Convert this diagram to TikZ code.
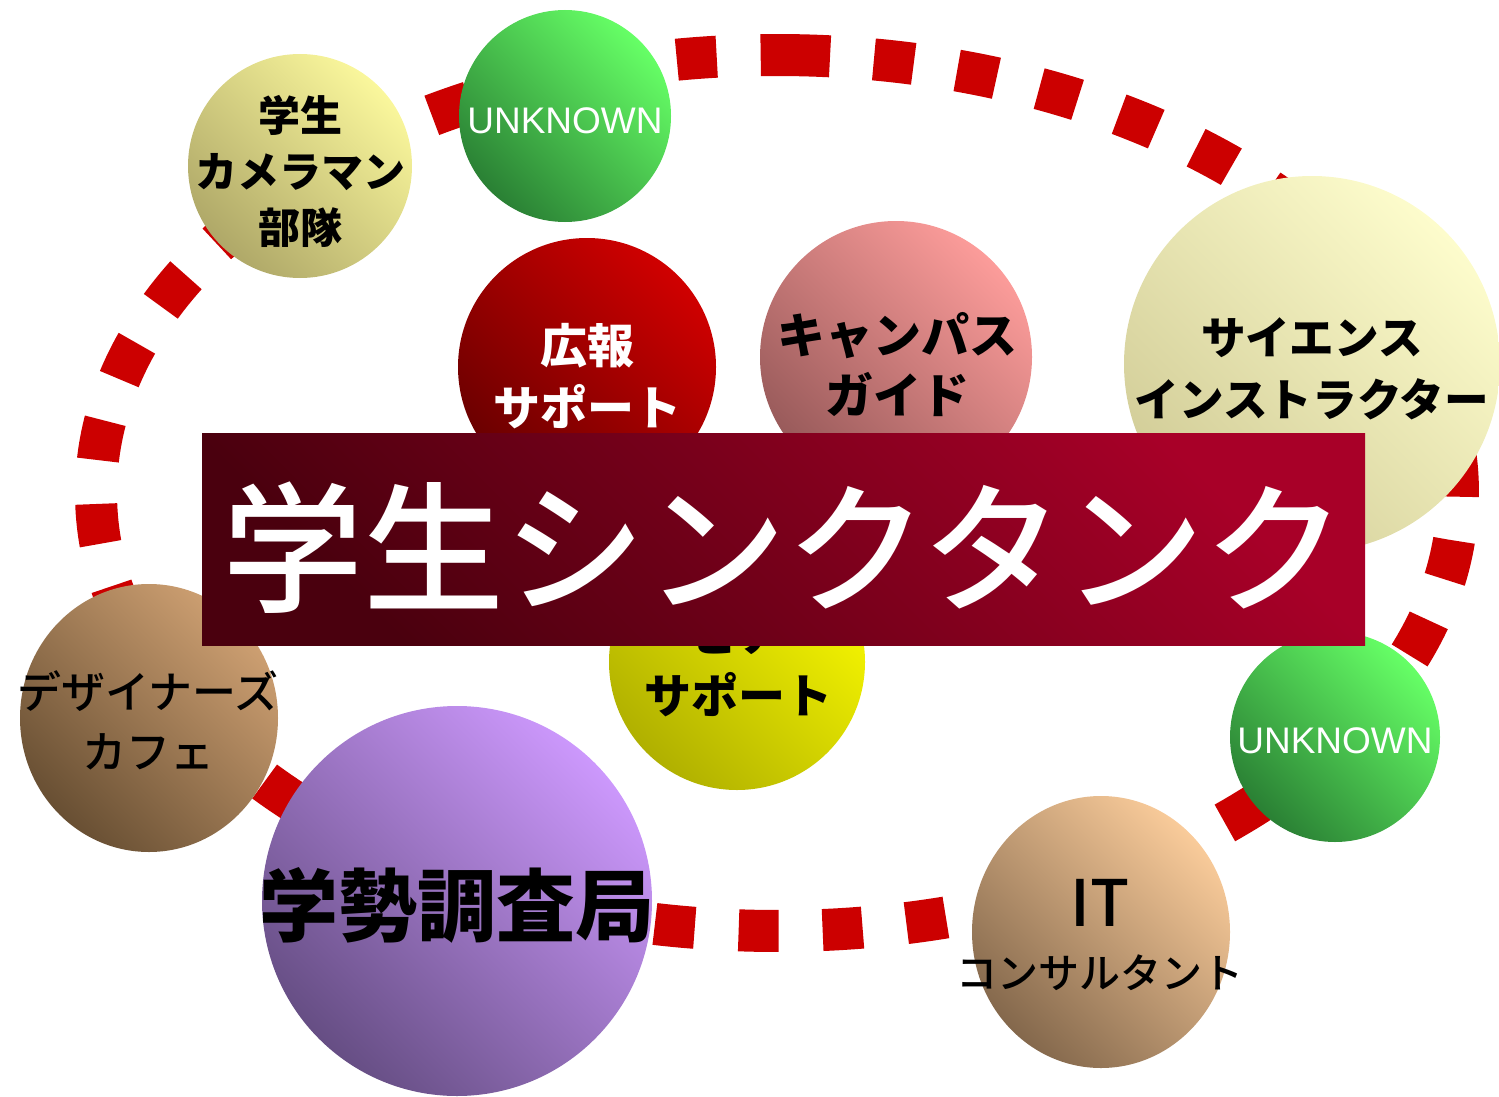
\documentclass[tikz,border=0pt]{standalone}
\usepackage{fontspec}
\newfontfamily\jp{Noto Sans CJK JP}
\IfFontExistsTF{Noto Sans CJK JP Medium}
  {\newfontfamily\jpm{Noto Sans CJK JP Medium}}
  {\newfontfamily\jpm{Noto Sans CJK JP}[FakeBold=2]}
\newfontfamily\lat{Liberation Sans}
\usetikzlibrary{shapes.geometric,calc}
\definecolor{ringred}{HTML}{CC0000}
\definecolor{camL}{HTML}{FAF79C}
\definecolor{camD}{HTML}{AFA868}
\definecolor{grnL}{HTML}{66FF66}
\definecolor{grnD}{HTML}{2A8034}
\definecolor{kohL}{HTML}{D00000}
\definecolor{kohD}{HTML}{6A0000}
\definecolor{camPL}{HTML}{FC9C9A}
\definecolor{camPD}{HTML}{985A5A}
\definecolor{sciL}{HTML}{FDFCCC}
\definecolor{sciD}{HTML}{D2CD98}
\definecolor{yelL}{HTML}{F8F800}
\definecolor{yelD}{HTML}{B0B000}
\definecolor{desL}{HTML}{CEA072}
\definecolor{desD}{HTML}{684F33}
\definecolor{purL}{HTML}{CC98FC}
\definecolor{purD}{HTML}{664E84}
\definecolor{itL}{HTML}{F9CB9A}
\definecolor{itD}{HTML}{84684C}
\definecolor{banL}{HTML}{A80028}
\definecolor{banD}{HTML}{4A000E}
\begin{document}
\begin{tikzpicture}[x=0.5pt,y=-0.5pt,
  ball/.style={circle, inner sep=0pt, minimum size=#1},
  oval/.style 2 args={ellipse, inner sep=0pt, minimum width=#1, minimum height=#2},
  grad/.style 2 args={top color=#1, bottom color=#2, shading angle=-45},
  lblb/.style 2 args={align=center, inner sep=0pt, text=black, font={\jp\bfseries\fontsize{#1}{#2}\selectfont}},
  lblm/.style 2 args={align=center, inner sep=0pt, text=black, font={\jpm\fontsize{#1}{#2}\selectfont}},
  unk/.style={inner sep=0pt, text=white, font={\lat\fontsize{18.5}{20}\selectfont}},
  ring/.style={draw=ringred, line width=21pt, dash pattern=on 20pt off 22pt, line cap=butt}
]
\useasboundingbox (0,0) rectangle (1499,1097);
% dashed ring
\coordinate (ec) at (777,493);
\draw[ring] ($(ec)+(-88.9:681 and 438)$) arc[start angle=-88.9, delta angle=360, x radius=681, y radius=438];
% circles
\node[ball=112pt, grad={camL}{camD}] (cam) at (300,166) {};
\node[ball=106pt, grad={grnL}{grnD}] (unk1) at (565,116) {};
\node[ball=129pt, grad={kohL}{kohD}] (koho) at (587,367) {};
\node[ball=136pt, grad={camPL}{camPD}] (campus) at (896,357) {};
\node[ball=188pt, grad={sciL}{sciD}] (sci) at (1312,364) {};
\node[ball=128pt, grad={yelL}{yelD}] (peer) at (737,662) {};
\node[oval={129pt}{134pt}, grad={desL}{desD}] (design) at (149,718) {};
\node[ball=195pt, grad={purL}{purD}] (gak) at (457,901) {};
\node[ball=105pt, grad={grnL}{grnD}] (unk2) at (1335,737) {};
\node[oval={129pt}{136pt}, grad={itL}{itD}] (it) at (1101,932) {};
% labels
\node[lblb={21}{28}] (tcam) at (300,171) {学生\\カメラマン\\部隊};
\node[unk] (tunk1) at (565,121) {UNKNOWN};
\node[lblb={23.5}{31}, text=white] (tkoho) at (587,376) {広報\\サポート};
\node[lblb={24}{30}] (tcampus) at (897,365) {キャンパス\\ガイド};
\node[lblb={22.3}{31}] (tsci) at (1312,369) {サイエンス\\インストラクター};
\node[lblb={23.5}{31}] (tpeer) at (738,664) {ピア\\サポート};
\node[lblm={22}{30}] (tdesign) at (148,720) {デザイナーズ\\カフェ};
\node[lblb={39.5}{45}] (tgak) at (457,905) {学勢調査局};
\node[unk] (tunk2) at (1335,741) {UNKNOWN};
\node[lblm={32}{36}] (tit1) at (1100,903) {IT};
\node[lblm={20.5}{24}] (tit2) at (1100,973) {コンサルタント};
% banner
\node[rectangle, inner sep=0pt, minimum width=581.5pt, minimum height=106pt, grad={banL}{banD}] (banner) at (783.5,539) {};
\node[inner sep=0pt, text=white, font={\jpm\fontsize{70.5}{72}\selectfont}] (title) at (784,548) {学生シンクタンク};
\end{tikzpicture}
\end{document}
